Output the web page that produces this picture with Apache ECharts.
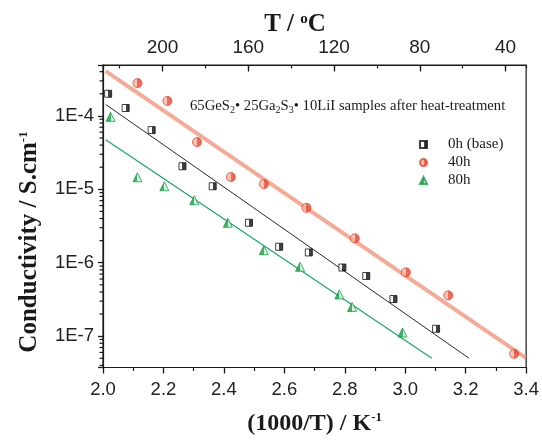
<!DOCTYPE html>
<html>
<head>
<meta charset="utf-8">
<script src="https://cdn.jsdelivr.net/npm/echarts@6/dist/echarts.min.js"></script>
<style>
html,body{margin:0;padding:0;background:#fff;}
#chart{width:542px;height:441px;}
</style>
</head>
<body>
<div id="chart"></div>
<script>
// ---------- data ----------
const seriesNames = ['0h (base)', '40h', '80h'];

const x0h = [2.017, 2.075, 2.161, 2.263, 2.363, 2.483, 2.583, 2.681, 2.792, 2.871, 2.961, 3.102];
const y0h = [2.0e-4, 1.28e-4, 6.4e-5, 2.06e-5, 1.1e-5, 3.5e-6, 1.65e-6, 1.38e-6, 8.6e-7, 6.6e-7, 3.2e-7, 1.26e-7];

const x40h = [2.114, 2.213, 2.311, 2.423, 2.532, 2.673, 2.833, 3.002, 3.142, 3.360];
const y40h = [2.8e-4, 1.6e-4, 4.4e-5, 1.47e-5, 1.18e-5, 5.6e-6, 2.15e-6, 7.4e-7, 3.6e-7, 5.75e-8];

const x80h = [2.025, 2.114, 2.203, 2.302, 2.413, 2.532, 2.652, 2.782, 2.824, 2.991];
const y80h = [9.7e-5, 1.46e-5, 1.1e-5, 7.1e-6, 3.5e-6, 1.48e-6, 8.8e-7, 3.7e-7, 2.5e-7, 1.12e-7];

// linear fits (end points)
const fit0hX = [2.009, 3.211];
const fit0hY = [1.43e-4, 5.0e-8];
const fit40hX = [2.009, 3.398];
const fit40hY = [4.06e-4, 5.1e-8];
const fit80hX = [2.009, 3.088];
const fit80hY = [4.73e-5, 5.0e-8];

// axes
const xMin = 2.0, xMax = 3.4, xStep = 0.2;
const yMin = Math.pow(10, -7.427), yMax = Math.pow(10, -3.307);
const tMin = 30.4, tMax = 227.8;          // top axis (T / °C)
const tMajorStep = 40, tMinorStep = 20;
const yMinorTicks = [
  4e-8, 5e-8, 6e-8, 7e-8, 8e-8, 9e-8,
  2e-7, 3e-7, 4e-7, 5e-7, 6e-7, 7e-7, 8e-7, 9e-7,
  2e-6, 3e-6, 4e-6, 5e-6, 6e-6, 7e-6, 8e-6, 9e-6,
  2e-5, 3e-5, 4e-5, 5e-5, 6e-5, 7e-5, 8e-5, 9e-5,
  2e-4, 3e-4, 4e-4
];

// ---------- helpers ----------
const zip = (xs, ys) => xs.map((x, i) => [x, ys[i]]);
const SERIF = '"Liberation Serif", "Times New Roman", serif';
const SANS = '"Liberation Sans", Arial, sans-serif';
const INK = '#1a1a1a';
const halfFill = (left, right) => ({
  type: 'linear', x: 0, y: 0, x2: 1, y2: 0,
  colorStops: [
    {offset: 0, color: left}, {offset: 0.5, color: left},
    {offset: 0.5, color: right}, {offset: 1, color: right}
  ]
});

const chart = echarts.init(document.getElementById('chart'), null, {renderer: 'canvas'});

const option = {
  animation: false,
  backgroundColor: '#fff',
  grid: {left: 103, right: 15, top: 65, bottom: 67, show: true,
         borderColor: INK, borderWidth: 1.2, backgroundColor: 'transparent'},
  legend: {
    data: seriesNames,
    orient: 'vertical', left: 414, top: 132,
    itemWidth: 7, itemHeight: 7, itemGap: 3,
    textStyle: {fontFamily: SERIF, fontSize: 15, color: INK, padding: [0, 0, 0, 16]}
  },
  xAxis: [
    {
      type: 'value', position: 'bottom', min: xMin, max: xMax, interval: xStep,
      axisLine: {show: true, lineStyle: {color: INK, width: 1.2}},
      axisTick: {show: true, inside: false, length: 6, lineStyle: {color: INK, width: 1.3}},
      minorTick: {show: true, splitNumber: 2, length: 3.5, lineStyle: {color: INK, width: 1.2}},
      splitLine: {show: false},
      axisLabel: {fontFamily: SANS, fontSize: 18.5, color: '#222', margin: 13,
                  formatter: v => v.toFixed(1)},
      name: '(1000/T) / K{sup|-1}',
      nameLocation: 'middle', nameGap: 44,
      nameTextStyle: {
        fontFamily: SERIF, fontWeight: 'bold', fontSize: 24, color: INK,
        rich: {sup: {fontFamily: SERIF, fontWeight: 'bold', fontSize: 13, color: INK, padding: [0, 0, 12, 0]}}
      }
    },
    {
      type: 'value', position: 'top', inverse: true, min: tMin, max: tMax,
      minInterval: tMajorStep, maxInterval: tMajorStep,
      axisLine: {show: true, lineStyle: {color: INK, width: 1.2}},
      axisTick: {show: true, inside: true, length: 6.5, lineStyle: {color: INK, width: 1.3}},
      splitLine: {show: false},
      axisLabel: {fontFamily: SANS, fontSize: 19, color: '#222', margin: 8,
                  showMinLabel: false, showMaxLabel: false,
                  formatter: v => (Math.abs(v % tMajorStep) < 1e-6 ? String(Math.round(v)) : '')}
    },
    {
      type: 'value', position: 'top', inverse: true, min: tMin, max: tMax,
      minInterval: tMinorStep, maxInterval: tMinorStep,
      axisLine: {show: false},
      axisTick: {show: true, inside: true, length: 3.5, lineStyle: {color: INK, width: 1.2}},
      splitLine: {show: false},
      axisLabel: {show: false}
    }
  ],
  yAxis: {
    type: 'log', logBase: 10, min: yMin, max: yMax,
    axisLine: {show: true, lineStyle: {color: INK, width: 1.2}},
    axisTick: {show: true, inside: false, length: 5, lineStyle: {color: INK, width: 1.3}},
    splitLine: {show: false},
    axisLabel: {
      fontFamily: SANS, fontSize: 18.5, color: '#222', margin: 9,
      formatter: v => {
        const l = Math.log10(v), r = Math.round(l);
        return Math.abs(l - r) < 1e-6 ? '1E' + r : '';
      }
    }
  },
  graphic: [
    {
      type: 'text', x: 30, y: 242, rotation: Math.PI / 2,
      style: {
        text: 'Conductivity / S.cm{sup|-1}',
        fontFamily: SERIF, fontWeight: 'bold', fontSize: 25, fill: INK,
        align: 'center', verticalAlign: 'middle',
        rich: {sup: {fontFamily: SERIF, fontWeight: 'bold', fontSize: 13, fill: INK, padding: [0, 0, 12, 0]}}
      }
    },
    {
      type: 'text', x: 295, y: 25,
      style: {
        text: 'T / {sup|o}C',
        fontFamily: SERIF, fontWeight: 'bold', fontSize: 25, fill: INK,
        align: 'center', verticalAlign: 'middle',
        rich: {sup: {fontFamily: SERIF, fontWeight: 'bold', fontSize: 15, fill: INK, padding: [0, 0, 12, 0]}}
      }
    },
    {
      type: 'text', x: 190, y: 106,
      style: {
        text: '65GeS{sub|2}• 25Ga{sub|2}S{sub|3}• 10LiI samples after heat-treatment',
        fontFamily: SERIF, fontSize: 14.7, fill: INK,
        align: 'left', verticalAlign: 'middle',
        rich: {sub: {fontFamily: SERIF, fontSize: 10, fill: INK, padding: [8, 0, 0, 0]}}
      }
    }
  ],
  series: [
    {
      name: 'fit 0h', type: 'line', data: zip(fit0hX, fit0hY),
      showSymbol: false, symbol: 'none', silent: true, z: 2,
      lineStyle: {color: '#2a2a2a', width: 1}
    },
    {
      name: 'fit 40h', type: 'line', data: zip(fit40hX, fit40hY),
      showSymbol: false, symbol: 'none', silent: true, z: 2,
      lineStyle: {color: '#f3957c', width: 4, opacity: 0.8}
    },
    {
      name: 'fit 80h', type: 'line', data: zip(fit80hX, fit80hY),
      showSymbol: false, symbol: 'none', silent: true, z: 2,
      lineStyle: {color: '#16a868', width: 1.2}
    },
    {
      name: seriesNames[0], type: 'scatter', data: zip(x0h, y0h),
      symbol: 'rect', symbolSize: 7, z: 4,
      itemStyle: {color: halfFill('#ffffff', '#111111'), borderColor: '#111111', borderWidth: 1}
    },
    {
      name: seriesNames[1], type: 'scatter', data: zip(x40h, y40h),
      symbol: 'circle', symbolSize: 9, z: 4,
      itemStyle: {color: halfFill('#f8b4a2', '#e8452d'), borderColor: '#e8452d', borderWidth: 1}
    },
    {
      name: seriesNames[2], type: 'scatter', data: zip(x80h, y80h),
      symbol: 'triangle', symbolSize: 9, z: 4,
      itemStyle: {color: halfFill('#14a045', '#d5f0da'), borderColor: '#14a045', borderWidth: 1}
    },
    {
      name: 'y minor ticks', type: 'custom', silent: true, clip: false, z: 5,
      data: yMinorTicks.map(v => [xMin, v]),
      renderItem: (params, api) => {
        const p = api.coord([api.value(0), api.value(1)]);
        return {type: 'line', shape: {x1: p[0] - 3.5, y1: p[1], x2: p[0], y2: p[1]},
                style: {stroke: INK, lineWidth: 1.2}};
      }
    }
  ]
};

chart.setOption(option);
</script>
</body>
</html>
